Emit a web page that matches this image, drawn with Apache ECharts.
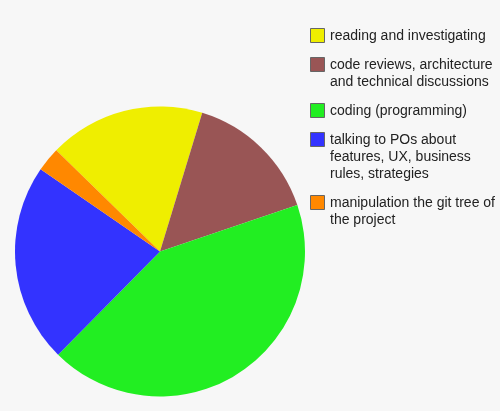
<!DOCTYPE html>
<html>
<head>
<meta charset="utf-8">
<script src="https://cdn.jsdelivr.net/npm/echarts@6/dist/echarts.min.js"></script>
<style>
  html, body { margin: 0; padding: 0; background: #f7f7f7; }
  #chart { width: 500px; height: 411px; }
</style>
</head>
<body>
<div id="chart"></div>
<script>
// activity shares (percent of the day)
const categories = [
  'reading and investigating',
  'code reviews, architecture\nand technical discussions',
  'coding (programming)',
  'talking to POs about\nfeatures, UX, business\nrules, strategies',
  'manipulation the git tree of\nthe project'
];
const shares = [17.4, 15.1, 42.6, 22.2, 2.7];
const colors = ['#efee00', '#995555', '#22ee22', '#3333ff', '#ff8800'];

// legend drawn by hand so the swatch lines up with the first text line
const legendItems = [];
let cy = 36;
categories.forEach((name, i) => {
  const lines = name.split('\n').length;
  legendItems.push({
    type: 'rect',
    shape: {x: 310.5, y: cy - 7.5, width: 14, height: 14},
    style: {fill: colors[i], stroke: '#666', lineWidth: 1}
  });
  legendItems.push({
    type: 'text',
    x: 330, y: cy - 8.5,
    style: {
      text: name, fill: '#222', font: '14px "Liberation Sans", Arial, sans-serif',
      lineHeight: 17, verticalAlign: 'top'
    }
  });
  cy += lines * 17 + 12;
});

const chart = echarts.init(document.getElementById('chart'));
chart.setOption({
  backgroundColor: '#f7f7f7',
  animation: false,
  color: colors,
  graphic: legendItems,
  series: [{
    type: 'pie',
    center: [160, 251.5],
    radius: 145,
    startAngle: 135.7,
    clockwise: true,
    label: {show: false},
    labelLine: {show: false},
    itemStyle: {borderWidth: 0},
    emphasis: {disabled: true},
    data: categories.map((name, i) => ({name: name, value: shares[i]}))
  }]
});
</script>
</body>
</html>
